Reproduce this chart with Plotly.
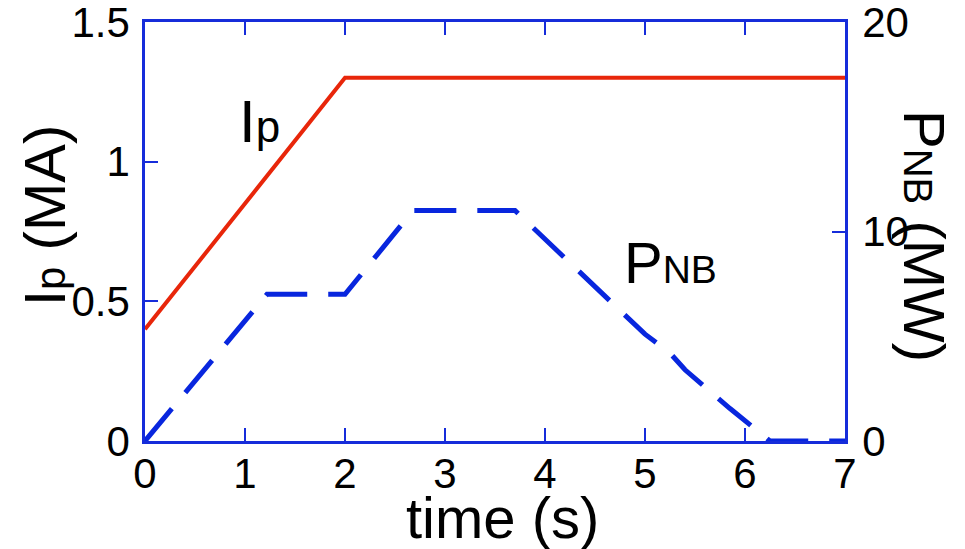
import plotly.graph_objects as go

# Plasma current waveform (MA) vs time (s)
t_ip = [0.0, 2.0, 7.0]
ip_ma = [0.40, 1.30, 1.30]

# Neutral-beam heating power (MW) vs time (s)
t_nb = [0.0, 1.22, 2.0, 2.68, 3.7, 4.5, 5.0, 5.25, 5.4, 5.85, 6.0, 6.25, 7.0]
p_nb = [0.0, 7.0, 7.0, 11.0, 11.0, 7.4, 5.1, 4.2, 3.4, 1.55, 0.95, 0.0, 0.0]

x_ticks = [0, 1, 2, 3, 4, 5, 6, 7]
ip_ticks = [0, 0.5, 1, 1.5]
nb_ticks = [0, 10, 20]

FONT = "Liberation Sans, Arial, Helvetica, sans-serif"
AXIS_BLUE = "rgb(22,44,218)"
RED = "rgb(232,38,10)"
BLUE = "rgb(8,38,222)"

fig = go.Figure()
fig.add_trace(go.Scatter(x=t_nb, y=p_nb, yaxis="y2", mode="lines",
                         line=dict(color=BLUE, width=5, dash="42px,21px"),
                         showlegend=False, hoverinfo="skip"))
fig.add_trace(go.Scatter(x=t_ip, y=ip_ma, mode="lines",
                         line=dict(color=RED, width=4),
                         showlegend=False, hoverinfo="skip"))

axis_common = dict(showgrid=False, zeroline=False, showline=True,
                   linecolor=AXIS_BLUE, linewidth=2.5,
                   ticks="inside", ticklen=13, tickwidth=2, tickcolor=AXIS_BLUE,
                   ticklabeloverflow="allow", automargin=False,
                   tickfont=dict(family=FONT, size=42, color="black"))

fig.update_layout(
    width=965, height=549,
    margin=dict(l=145, r=120, t=22, b=108, autoexpand=False),
    paper_bgcolor="white", plot_bgcolor="white",
    xaxis=dict(range=[0, 7], tickvals=x_ticks, mirror="ticks",
               ticklabelstandoff=-6, **axis_common),
    yaxis=dict(range=[0, 1.5], tickvals=ip_ticks,
               ticktext=[f"{v:g}" for v in ip_ticks],
               ticklabelstandoff=4, **axis_common),
    yaxis2=dict(range=[0, 20], tickvals=nb_ticks, overlaying="y", side="right",
                ticklabelstandoff=6, **axis_common),
)

ann_font = dict(family=FONT, size=58, color="black")
fig.add_annotation(xref="paper", yref="paper", x=(502 - 145) / 700, y=-(517 - 441) / 419,
                   text="time (s)", showarrow=False, font=ann_font,
                   xanchor="center", yanchor="middle")
fig.add_annotation(xref="paper", yref="paper", x=-(145 - 45) / 700, y=(441 - 216) / 419,
                   text="I<span style='font-size:42px'>p</span> (MA)", showarrow=False,
                   font=ann_font, textangle=-90, xanchor="center", yanchor="middle")
fig.add_annotation(xref="paper", yref="paper", x=(924 - 145) / 700, y=(441 - 236) / 419,
                   text="P<span style='font-size:40px'>NB</span> (MW)", showarrow=False,
                   font=ann_font, textangle=90, xanchor="center", yanchor="middle")
fig.add_annotation(xref="paper", yref="paper", x=(237 - 145) / 700, y=(441 - 122) / 419,
                   text="I<span style='font-size:44px'>p</span>", showarrow=False,
                   font=dict(family=FONT, size=60, color="black"),
                   xanchor="left", yanchor="middle")
fig.add_annotation(xref="paper", yref="paper", x=(622 - 145) / 700, y=(441 - 262) / 419,
                   text="P<span style='font-size:39px'>NB</span>", showarrow=False,
                   font=dict(family=FONT, size=58, color="black"),
                   xanchor="left", yanchor="middle")

fig.write_html("out.html")
